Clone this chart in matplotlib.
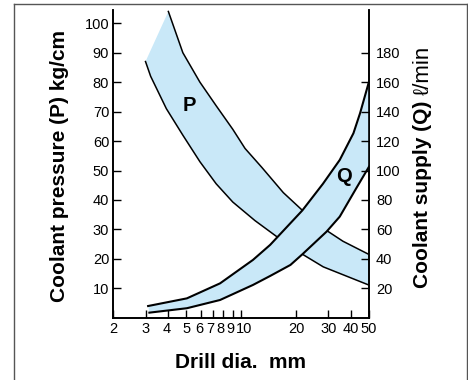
import matplotlib
matplotlib.use("Agg")
import matplotlib.pyplot as plt
from matplotlib.lines import Line2D
from matplotlib.transforms import ScaledTranslation

plt.rcParams['font.family'] = ['Liberation Sans', 'DejaVu Sans']

# Coolant pressure band (left axis, kg/cm)
p_upper_x = [4.0, 4.8, 5.95, 7.3, 9.0, 10.5, 13.0, 17.0, 21.6, 28.1, 36, 50]
p_upper_y = [104, 90, 80, 72, 64, 57.5, 51, 42.5, 36.5, 30.4, 26, 21.5]
p_lower_x = [3.0, 3.2, 3.9, 4.8, 5.95, 7.3, 9.0, 11.9, 16.1, 21.6, 28.1, 50]
p_lower_y = [87, 82, 71, 62, 53, 45.5, 39.3, 33, 27, 21.6, 17.3, 11.1]

# Coolant supply band (right axis, l/min)
q_upper_x = [3.1, 5.05, 7.67, 11.6, 14.4, 21.6, 28.0, 34.6, 41.1, 44.7, 50]
q_upper_y = [8, 13.2, 23.4, 39.3, 49.5, 72.9, 91, 107.2, 125.3, 139, 160.4]
q_lower_x = [3.15, 5.05, 7.67, 11.6, 14.4, 18.6, 21.6, 29.3, 34.6, 42.7, 50]
q_lower_y = [3.5, 6.5, 12.1, 22.3, 28.4, 35.9, 43.1, 58.5, 68.7, 88.2, 102.6]

x_ticks = [2, 3, 4, 5, 6, 7, 8, 9, 10, 20, 30, 40, 50]
x_labels = ['2', '3', '4', '5', '6', '7', '8', '9', '10', '20', '30', '40', '50']
left_ticks = [10, 20, 30, 40, 50, 60, 70, 80, 90, 100]
right_ticks = [20, 40, 60, 80, 100, 120, 140, 160, 180]

fill_color = '#C9E8F8'
W, H = 468, 380

fig = plt.figure(figsize=(W / 100, H / 100), dpi=100)
ax = fig.add_axes([113.3 / W, 1 - 317.8 / H, (369 - 113.3) / W, (317.8 - 10) / H])
ax2 = ax.twinx()

ax.set_xscale('log')
ax.set_xlim(2, 50)
ax.set_ylim(0, 104.5)
ax2.set_ylim(0, 209)

# P band
ax.fill(p_lower_x + p_upper_x[::-1], p_lower_y + p_upper_y[::-1],
        color=fill_color, lw=0, zorder=1)
# Q band
ax2.fill(q_lower_x + q_upper_x[::-1], q_lower_y + q_upper_y[::-1],
         color=fill_color, lw=0, zorder=1)

ax.plot(p_upper_x, p_upper_y, color='black', lw=1.1, zorder=3, solid_joinstyle='round')
ax.plot(p_lower_x, p_lower_y, color='black', lw=1.1, zorder=3, solid_joinstyle='round')
ax2.plot(q_upper_x, q_upper_y, color='black', lw=1.5, zorder=3, solid_joinstyle='round')
ax2.plot(q_lower_x, q_lower_y, color='black', lw=1.5, zorder=3, solid_joinstyle='round')

for a in (ax, ax2):
    a.spines['top'].set_visible(False)
    for s in ('left', 'right', 'bottom'):
        a.spines[s].set_linewidth(1.2)
    a.patch.set_visible(False)

ax.set_xticks(x_ticks)
ax.set_xticklabels(x_labels)
ax.xaxis.set_minor_locator(matplotlib.ticker.NullLocator())
ax.set_yticks(left_ticks)
ax2.set_yticks(right_ticks)

ax.tick_params(axis='x', direction='in', length=6, width=1, labelsize=10.5, pad=3)
ax.tick_params(axis='y', direction='in', length=6, width=1, labelsize=10.5, pad=3)
ax2.tick_params(axis='y', direction='in', length=6, width=1, labelsize=10.5, pad=5)

# nudge crowded x tick labels like the reference
nudges = {4: -2, 6: -1, 7: -2.5, 8: -3, 9: -2.5, 10: 3}
for tick, val in zip(ax.xaxis.get_major_ticks(), x_ticks):
    if val in nudges:
        tick.label1.set_transform(tick.label1.get_transform() +
                                  ScaledTranslation(nudges[val] / 100, 0, fig.dpi_scale_trans))

lab_size = 15
fig.text(65 / W, 1 - 302 / H, 'Coolant pressure (P) kg/cm', rotation=90,
         rotation_mode='anchor', ha='left', va='baseline',
         fontsize=lab_size, fontweight='bold')
fig.text(175 / W, 1 - 368.3 / H, 'Drill dia.  mm', ha='left', va='baseline',
         fontsize=lab_size, fontweight='bold')

t1 = fig.text(428.3 / W, 1 - 288.5 / H, 'Coolant supply (Q)', rotation=90,
              rotation_mode='anchor', ha='left', va='baseline',
              fontsize=lab_size, fontweight='bold')
fig.canvas.draw()
bb = t1.get_window_extent(renderer=fig.canvas.get_renderer())
fig.text(428.3 / W, (bb.y1 + 6) / H, 'ℓ/min', rotation=90,
         rotation_mode='anchor', ha='left', va='baseline', fontsize=16)

fig.text(189 / W, 1 - 105 / H, 'P', fontsize=14.5, fontweight='bold', ha='center', va='center')
fig.text(344 / W, 1 - 176 / H, 'Q', fontsize=14.5, fontweight='bold', ha='center', va='center')

# outer frame (left, top, right)
fc = '#555555'
fig.add_artist(Line2D([14 / W, 14 / W], [0, 1 - 4 / H], transform=fig.transFigure, color=fc, lw=1))
fig.add_artist(Line2D([14 / W, 466.5 / W], [1 - 4 / H, 1 - 4 / H], transform=fig.transFigure, color=fc, lw=1))
fig.add_artist(Line2D([466.5 / W, 466.5 / W], [0, 1 - 4 / H], transform=fig.transFigure, color=fc, lw=1))

fig.savefig('out.png', dpi=100)
